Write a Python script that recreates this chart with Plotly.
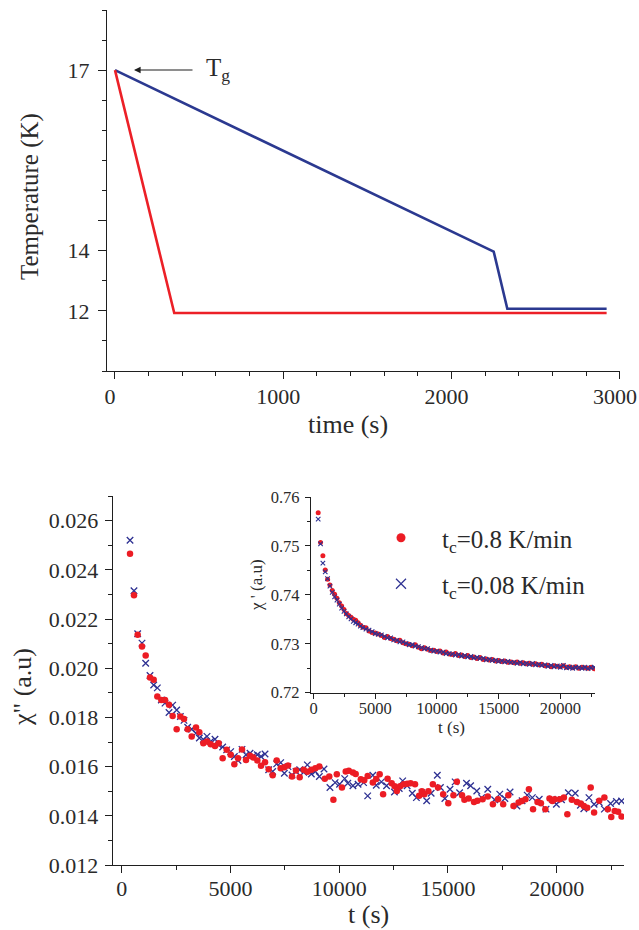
import plotly.graph_objects as go

# ---------------- data ----------------
# top panel: temperature protocol (time in s, temperature in K)
t_fast = [0, 352, 2921]
T_fast = [17.0, 11.93, 11.93]
t_slow = [0, 2250, 2331, 2921]
T_slow = [17.0, 13.97, 12.07, 12.07]
temp_tick_labels = ["12", "14", "17"]
temp_tick_values = [12.0, 14.0, 17.0]

# bottom panel: chi'' relaxation
t_red = [382, 565, 734, 933, 1102, 1301, 1470, 1638, 1822, 1991, 2175, 2343, 2527, 2696, 2864,
         3033, 3217, 3416, 3569, 3753, 3922, 4090, 4289, 4458, 4642, 4826, 5010, 5179, 5347,
         5531, 5715, 5899, 6052, 6236, 6405, 6589, 6757, 6941, 7125, 7309, 7478, 7646, 7830,
         8014, 8183, 8367, 8535, 8719, 8903, 9087, 9338, 9543, 9732, 9890, 10126, 10300, 10442,
         10631, 10757, 10994, 11150, 11309, 11546, 11700, 11861, 12019, 12224, 12413, 12550,
         12650, 12800, 12965, 13130, 13281, 13486, 13675, 13800, 13912, 14100, 14306, 14543,
         14779, 15016, 15252, 15410, 15647, 15757, 15950, 16199, 16356, 16593, 16830, 17066,
         17303, 17539, 17776, 18013, 18249, 18400, 18565, 18722, 18912, 19117, 19274, 19479,
         19669, 19800, 19905, 20142, 20331, 20489, 20694, 20931, 21100, 21246, 21404, 21562,
         21719, 21956, 22192, 22350, 22508, 22666, 22823, 22981]
chi2_red = [0.02465, 0.02297, 0.02136, 0.02088, 0.02052, 0.01962, 0.01953, 0.01885, 0.01871,
            0.01871, 0.01851, 0.01806, 0.01752, 0.01804, 0.01793, 0.01752, 0.01722, 0.01759,
            0.01740, 0.01695, 0.01702, 0.01691, 0.01684, 0.01695, 0.01634, 0.01668, 0.01648,
            0.01610, 0.01634, 0.01670, 0.01627, 0.01644, 0.01637, 0.01625, 0.01603, 0.01618,
            0.01589, 0.01565, 0.01625, 0.01593, 0.01597, 0.01604, 0.01560, 0.01584, 0.01557,
            0.01587, 0.01579, 0.01587, 0.01593, 0.01600, 0.01551, 0.01560, 0.01465, 0.01569,
            0.01515, 0.01580, 0.01583, 0.01576, 0.01570, 0.01549, 0.01545, 0.01562, 0.01535,
            0.01550, 0.01569, 0.01488, 0.01551, 0.01532, 0.01520, 0.01501, 0.01520, 0.01528,
            0.01530, 0.01532, 0.01528, 0.01481, 0.01500, 0.01488, 0.01500, 0.01528, 0.01515,
            0.01488, 0.01451, 0.01484, 0.01538, 0.01484, 0.01465, 0.01470, 0.01456, 0.01461,
            0.01467, 0.01478, 0.01447, 0.01467, 0.01447, 0.01484, 0.01440, 0.01454, 0.01460,
            0.01467, 0.01508, 0.01427, 0.01456, 0.01451, 0.01427, 0.01470, 0.01460, 0.01467,
            0.01467, 0.01474, 0.01406, 0.01465, 0.01456, 0.01450, 0.01440, 0.01433, 0.01515,
            0.01413, 0.01461, 0.01474, 0.01427, 0.01395, 0.01420, 0.01416, 0.01397]

t_blue = [382, 565, 734, 933, 1102, 1301, 1470, 1638, 1822, 1991, 2175, 2343, 2527, 2696, 2864,
          3033, 3217, 3416, 3569, 3753, 3922, 4090, 4289, 4458, 4642, 4826, 5010, 5179, 5347,
          5531, 5715, 5899, 6052, 6236, 6405, 6589, 6757, 6941, 7125, 7309, 7478, 7646, 7830,
          8014, 8183, 8367, 8535, 8719, 8903, 9087, 9300, 9574, 9811, 10016, 10252, 10394, 10631,
          10868, 11120, 11309, 11546, 11703, 11940, 12177, 12539, 12760, 12918, 13123, 13360,
          13549, 13801, 14022, 14227, 14511, 14653, 14858, 15095, 15331, 15536, 15852, 16041,
          16325, 16546, 16830, 17145, 17382, 17618, 17855, 18170, 18407, 18644, 18880, 19196,
          19511, 19795, 19984, 20221, 20536, 20852, 21088, 21246, 21483, 21719, 21956, 22192,
          22476, 22744, 22981]
chi2_blue = [0.02520, 0.02315, 0.02140, 0.02102, 0.02020, 0.01970, 0.01932, 0.01920, 0.01871,
             0.01858, 0.01820, 0.01850, 0.01830, 0.01804, 0.01788, 0.01760, 0.01752, 0.01736,
             0.01716, 0.01710, 0.01723, 0.01702, 0.01711, 0.01688, 0.01680, 0.01668, 0.01661,
             0.01641, 0.01625, 0.01670, 0.01648, 0.01654, 0.01644, 0.01648, 0.01641, 0.01651,
             0.01587, 0.01580, 0.01611, 0.01616, 0.01573, 0.01600, 0.01566, 0.01580, 0.01587,
             0.01577, 0.01607, 0.01570, 0.01580, 0.01560, 0.01590, 0.01515, 0.01535, 0.01528,
             0.01551, 0.01532, 0.01522, 0.01528, 0.01535, 0.01481, 0.01565, 0.01524, 0.01538,
             0.01522, 0.01497, 0.01511, 0.01542, 0.01522, 0.01492, 0.01474, 0.01494, 0.01461,
             0.01492, 0.01565, 0.01515, 0.01470, 0.01508, 0.01538, 0.01494, 0.01532, 0.01522,
             0.01501, 0.01474, 0.01508, 0.01465, 0.01488, 0.01470, 0.01497, 0.01440, 0.01461,
             0.01484, 0.01474, 0.01467, 0.01427, 0.01467, 0.01447, 0.01465, 0.01494, 0.01492,
             0.01443, 0.01429, 0.01474, 0.01447, 0.01454, 0.01427, 0.01450, 0.01458, 0.01460]

# inset: chi' relaxation
t_in = [380, 570, 760, 950, 1140, 1330, 1520, 1710, 1900, 2090, 2280, 2470, 2660, 2850, 3040,
        3230, 3420, 3610, 3800, 4000, 4250, 4500, 4750, 5000, 5250, 5500, 5750, 6000, 6250,
        6500, 6750, 7000, 7250, 7500, 7750, 8000, 8250, 8500, 8750, 9000, 9250, 9500, 9750,
        10000, 10250, 10500, 10750, 11000, 11250, 11500, 11750, 12000, 12250, 12500, 12750,
        13000, 13250, 13500, 13750, 14000, 14250, 14500, 14750, 15000, 15250, 15500, 15750,
        16000, 16250, 16500, 16750, 17000, 17250, 17500, 17750, 18000, 18250, 18500, 18750,
        19000, 19250, 19500, 19750, 20000, 20250, 20500, 20750, 21000, 21250, 21500, 21750,
        22000, 22250, 22500, 22750]
chi1_red = [0.7568, 0.7507, 0.7480, 0.7451, 0.7432, 0.7420, 0.7409, 0.7401, 0.7393, 0.7384,
            0.7377, 0.7370, 0.7362, 0.7358, 0.7354, 0.7350, 0.7348, 0.7343, 0.7338, 0.7334,
            0.7333, 0.7326, 0.7323, 0.7322, 0.7320, 0.7317, 0.7313, 0.7315, 0.7311, 0.7309,
            0.7306, 0.7307, 0.7302, 0.7300, 0.7299, 0.7296, 0.7298, 0.7293, 0.7290, 0.7292,
            0.7289, 0.7286, 0.7287, 0.7284, 0.7285, 0.7281, 0.7283, 0.7279, 0.7278, 0.7280,
            0.7276, 0.7277, 0.7274, 0.7276, 0.7272, 0.7273, 0.7270, 0.7272, 0.7268, 0.7269,
            0.7267, 0.7268, 0.7265, 0.7266, 0.7264, 0.7265, 0.7262, 0.7263, 0.7261, 0.7263,
            0.7260, 0.7261, 0.7259, 0.7260, 0.7258, 0.7259, 0.7257, 0.7258, 0.7255, 0.7256,
            0.7253, 0.7255, 0.7254, 0.7253, 0.7255, 0.7252, 0.7253, 0.7251, 0.7253, 0.7250,
            0.7252, 0.7251, 0.7250, 0.7252, 0.7249]
chi1_blue = [0.7555, 0.7504, 0.7465, 0.7447, 0.7433, 0.7418, 0.7405, 0.7396, 0.7389, 0.7381,
             0.7373, 0.7366, 0.7361, 0.7355, 0.7351, 0.7346, 0.7343, 0.7340, 0.7336, 0.7333,
             0.7330, 0.7328, 0.7325, 0.7321, 0.7319, 0.7318, 0.7315, 0.7312, 0.7312, 0.7308,
             0.7307, 0.7304, 0.7304, 0.7301, 0.7298, 0.7298, 0.7295, 0.7294, 0.7292, 0.7290,
             0.7290, 0.7287, 0.7285, 0.7285, 0.7283, 0.7283, 0.7280, 0.7280, 0.7279, 0.7277,
             0.7278, 0.7275, 0.7276, 0.7273, 0.7274, 0.7271, 0.7272, 0.7270, 0.7270, 0.7267,
             0.7268, 0.7266, 0.7266, 0.7264, 0.7265, 0.7263, 0.7264, 0.7262, 0.7262, 0.7260,
             0.7262, 0.7259, 0.7260, 0.7258, 0.7260, 0.7257, 0.7258, 0.7256, 0.7257, 0.7254,
             0.7256, 0.7253, 0.7255, 0.7252, 0.7256, 0.7251, 0.7252, 0.7250, 0.7252, 0.7251,
             0.7250, 0.7252, 0.7249, 0.7251, 0.7252]

legend_red = "t<sub>c</sub>=0.8 K/min"
legend_blue = "t<sub>c</sub>=0.08 K/min"

assert len(t_red) == len(chi2_red), (len(t_red), len(chi2_red))
assert len(t_blue) == len(chi2_blue), (len(t_blue), len(chi2_blue))
assert len(t_in) == len(chi1_red) == len(chi1_blue), (len(t_in), len(chi1_red), len(chi1_blue))

# ---------------- helpers ----------------
W, H = 639, 930
def px(x):
    return x / W
def py(y):
    return 1 - y / H

# the temperature axis of the original is drawn with a non-uniform scale:
# 12 K and 14 K are two tick steps apart, 14 K and 17 K six steps apart.
def temp_pos(T):
    if T <= 14:
        return 2 + (T - 12) * 1.0
    return 4 + (T - 14) * 2.0

FONT = "Liberation Serif, Times New Roman, serif"
TXT = "#2a2a2a"
AX = "#1f1f1f"
RED = "#ec1c24"
BLUE = "#2e3192"
LRED = "#ec2027"
LBLUE = "#2b3990"

fig = go.Figure()

# top panel lines
fig.add_trace(go.Scatter(x=t_slow, y=[temp_pos(v) for v in T_slow], mode="lines",
                         line=dict(color=LBLUE, width=2.6), xaxis="x", yaxis="y", showlegend=False))
fig.add_trace(go.Scatter(x=t_fast, y=[temp_pos(v) for v in T_fast], mode="lines",
                         line=dict(color=LRED, width=2.6), xaxis="x", yaxis="y", showlegend=False))

# main bottom panel
fig.add_trace(go.Scatter(x=t_blue, y=chi2_blue, mode="markers", xaxis="x2", yaxis="y2",
                         marker=dict(symbol="x-thin", size=6.5, line=dict(width=1.3, color=BLUE), color=BLUE),
                         showlegend=False))
fig.add_trace(go.Scatter(x=t_red, y=chi2_red, mode="markers", xaxis="x2", yaxis="y2",
                         marker=dict(symbol="circle", size=6.5, color=RED), showlegend=False))

# inset
fig.add_trace(go.Scatter(x=t_in, y=chi1_red, mode="markers", xaxis="x3", yaxis="y3",
                         marker=dict(symbol="circle", size=5, color=RED), showlegend=False))
fig.add_trace(go.Scatter(x=t_in, y=chi1_blue, mode="markers", xaxis="x3", yaxis="y3",
                         marker=dict(symbol="x-thin", size=4.5, line=dict(width=1.1, color=BLUE), color=BLUE),
                         showlegend=False))

# legend-only entries
fig.add_trace(go.Scatter(x=[None], y=[None], mode="markers", xaxis="x3", yaxis="y3",
                         marker=dict(symbol="circle", size=9, color=RED), name=legend_red, legend="legend"))
fig.add_trace(go.Scatter(x=[None], y=[None], mode="markers", xaxis="x3", yaxis="y3",
                         marker=dict(symbol="x-thin", size=10, line=dict(width=1.2, color=BLUE), color=BLUE),
                         name=legend_blue, legend="legend2"))

def axis(domain, rng, anchor, tickvals=None, ticktext=None, dtick=None, minor_dtick=None,
         size=22, ticklen=7, minorlen=4, standoff=None, shift=None, fmt=None):
    d = dict(domain=domain, range=rng, anchor=anchor, showgrid=False, zeroline=False,
             showline=True, linecolor=AX, linewidth=1.3, mirror=False,
             ticks="outside", ticklen=ticklen, tickwidth=1.2, tickcolor=AX,
             tickfont=dict(family=FONT, size=size, color=TXT),
             minor=dict(ticks="outside", ticklen=minorlen, tickwidth=1.2, tickcolor=AX, showgrid=False))
    if tickvals is not None:
        d["tickmode"] = "array"
        d["tickvals"] = tickvals
        if ticktext is not None:
            d["ticktext"] = ticktext
    if dtick is not None:
        d["tick0"] = 0
        d["dtick"] = dtick
    if minor_dtick is not None:
        d["minor"]["dtick"] = minor_dtick
        d["minor"]["tick0"] = 0
    if standoff is not None:
        d["ticklabelstandoff"] = standoff
    if shift is not None:
        d["ticklabelshift"] = shift
    if fmt is not None:
        d["tickformat"] = fmt
    return d

top_tickpos = [temp_pos(v) for v in temp_tick_values] + [5]
top_ticktext = temp_tick_labels + [""]

fig.update_layout(
    width=W, height=H, autosize=False,
    margin=dict(l=0, r=0, t=0, b=0, autoexpand=False),
    paper_bgcolor="white", plot_bgcolor="white",
    xaxis=axis([px(107), px(620)], [-47.5, 3000.5], "y", dtick=1000, minor_dtick=200, ticklen=7, minorlen=4,
               standoff=-2, shift=-5, fmt="d"),
    yaxis=axis([py(371), py(10)], [0, 12], "x", tickvals=top_tickpos, ticktext=top_ticktext,
               minor_dtick=1, ticklen=8, minorlen=4, standoff=4),
    xaxis2=axis([px(112.7), px(624)], [-414, 23094], "y2", dtick=5000, minor_dtick=2500, ticklen=7, minorlen=4,
                standoff=-4, fmt="d"),
    yaxis2=axis([py(865), py(496)], [0.012, 0.027], "x2", dtick=0.002, minor_dtick=0.001, ticklen=7, minorlen=4,
                standoff=2, fmt=".3f"),
    xaxis3=axis([px(311), px(595)], [-203, 22812], "y3", dtick=5000, minor_dtick=2500, size=16.5,
                ticklen=5, minorlen=3, standoff=-5, fmt="d"),
    yaxis3=axis([py(692.7), py(497)], [0.72, 0.76], "x3", dtick=0.01, minor_dtick=0.005, size=16.5,
                ticklen=5, minorlen=3, standoff=2, fmt=".2f"),
    legend=dict(x=px(360), y=py(538), xanchor="left", yanchor="middle", bgcolor="rgba(0,0,0,0)",
                font=dict(family=FONT, size=25, color=TXT), itemwidth=72, borderwidth=0),
    legend2=dict(x=px(360), y=py(584), xanchor="left", yanchor="middle", bgcolor="rgba(0,0,0,0)",
                 font=dict(family=FONT, size=25, color=TXT), itemwidth=72, borderwidth=0),
)

ann = []
def label(text, x, y, size, angle=0, xanchor="center", yanchor="middle"):
    ann.append(dict(text=text, x=px(x), y=py(y), xref="paper", yref="paper", showarrow=False,
                    textangle=angle, xanchor=xanchor, yanchor=yanchor, borderpad=0,
                    font=dict(family=FONT, size=size, color=TXT)))

label("Temperature (K)", 30, 197, 25, angle=-90)
label("time (s)", 348, 424, 26)
label('χ" (a.u)', 22, 687, 26, angle=-90)
label("t (s)", 368, 930, 26, yanchor="bottom")
label("χ ' (a.u)", 256, 585, 17, angle=-90)
label("t (s)", 451, 727, 17)
label("T<sub>g</sub>", 205, 69, 25, xanchor="left")

# arrow pointing at Tg
ann.append(dict(text="", x=px(134), y=py(70), xref="paper", yref="paper",
                ax=60, ay=0, axref="pixel", ayref="pixel", showarrow=True,
                arrowhead=2, arrowsize=1.1, arrowwidth=1.2, arrowcolor=AX))
fig.update_layout(annotations=ann)

fig.write_html("out.html")
